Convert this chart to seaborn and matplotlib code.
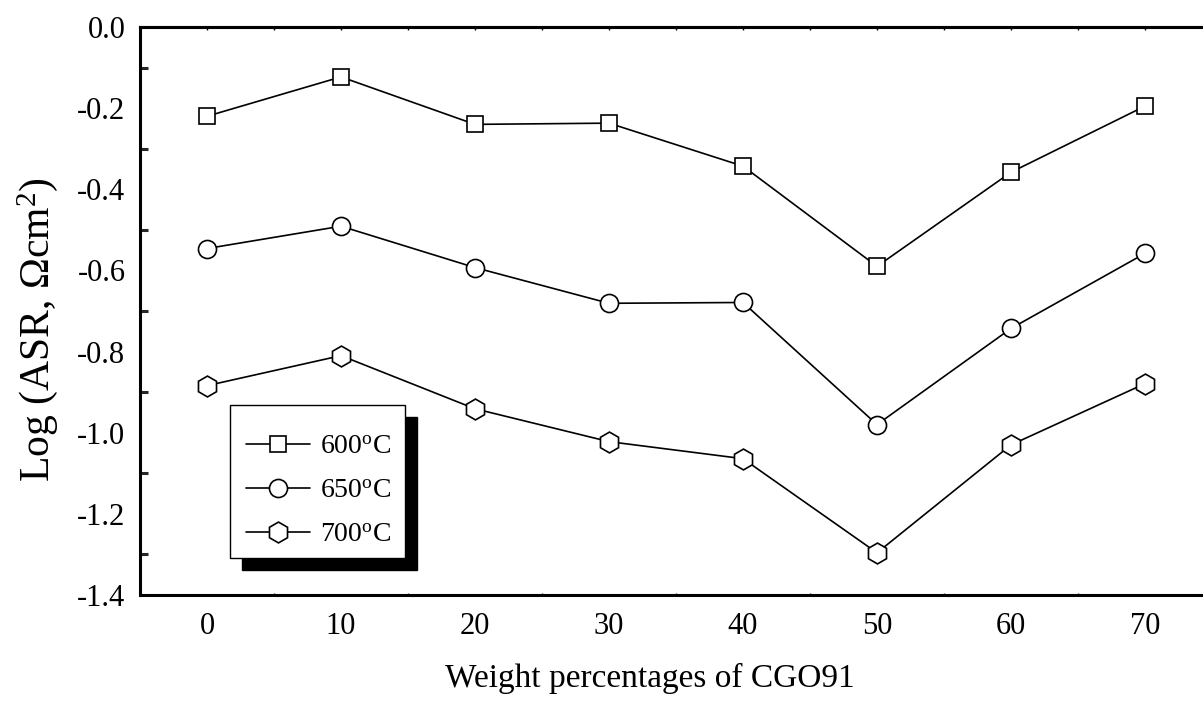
import numpy as np
import pandas as pd
import matplotlib
matplotlib.use("Agg")
import matplotlib.pyplot as plt
from matplotlib.patches import Rectangle
from matplotlib.lines import Line2D
from matplotlib.ticker import MultipleLocator
import seaborn as sns

weights = [0, 10, 20, 30, 40, 50, 60, 70]
asr_600 = [-0.220, -0.123, -0.240, -0.237, -0.343, -0.590, -0.358, -0.195]
asr_650 = [-0.546, -0.491, -0.593, -0.681, -0.679, -0.980, -0.743, -0.558]
asr_700 = [-0.884, -0.810, -0.941, -1.022, -1.064, -1.296, -1.030, -0.879]
labels = ["600$^\\mathrm{o}$C", "650$^\\mathrm{o}$C", "700$^\\mathrm{o}$C"]
ytick_vals = [-1.4, -1.2, -1.0, -0.8, -0.6, -0.4, -0.2, 0.0]
ytick_labels = ["-1.4", "-1.2", "-1.0", "-0.8", "-0.6", "-0.4", "-0.2", "0.0"]
markers = ["s", "o", "h"]
msizes = [12, 13, 15]

sns.set_theme(style="white")
plt.rcParams["font.family"] = ["Liberation Serif", "DejaVu Serif"]
plt.rcParams["mathtext.fontset"] = "custom"
plt.rcParams["mathtext.rm"] = "Liberation Serif"
plt.rcParams["mathtext.it"] = "Liberation Serif:italic"
plt.rcParams["text.color"] = "black"
plt.rcParams["axes.labelcolor"] = "black"

W, H = 1203, 701
fig = plt.figure(figsize=(W/100, H/100), dpi=100)
ax = fig.add_axes([140/W, 1-595/H, (1212-140)/W, (595-27)/H])

handles = []
for ys, lab, m, ms in zip([asr_600, asr_650, asr_700], labels, markers, msizes):
    sns.lineplot(x=weights, y=ys, ax=ax, color="black", lw=1.2, marker=m,
                 markersize=ms, markerfacecolor="white", markeredgecolor="black",
                 markeredgewidth=1.2, legend=False)
    handles.append(Line2D([], [], color="black", lw=1.2, marker=m, markersize=ms,
                          markerfacecolor="white", markeredgecolor="black",
                          markeredgewidth=1.2, label=lab))

ax.set_xlim(-5, 75)
ax.set_ylim(-1.4, 0.0)
ax.set_xticks(weights)
ax.set_yticks(ytick_vals)
ax.set_yticklabels(ytick_labels)
ax.yaxis.set_minor_locator(MultipleLocator(0.1))
ax.xaxis.set_minor_locator(MultipleLocator(5))
for s in ax.spines.values():
    s.set_color("black")
    s.set_linewidth(2.2)
ax.tick_params(axis="both", which="major", direction="in", length=11, width=2.2,
               labelsize=22, colors="black", top=False, right=False)
ax.tick_params(axis="y", which="major", pad=10.5)
ax.tick_params(axis="x", which="major", pad=12)
ax.tick_params(axis="y", which="minor", direction="in", length=5.5, width=2.2, left=True)
ax.tick_params(axis="x", which="minor", direction="in", length=1.5, width=1, bottom=True, top=False)

sec = ax.secondary_xaxis("top")
sec.set_xticks(np.arange(-5, 76, 5))
sec.tick_params(direction="in", length=2, width=1, labeltop=False, colors="black")
sec.spines["top"].set_linewidth(2.2)

ax.set_xlabel("Weight percentages of CGO91", fontsize=24, color="black", va="center")
ax.xaxis.set_label_coords(650/W, 1-678/H, transform=fig.transFigure)
ax.set_ylabel("Log (ASR, $\\Omega$cm$^2$)", fontsize=30, color="black", va="center")
ax.yaxis.set_label_coords(38/W, 1-330/H, transform=fig.transFigure)

leg = ax.legend(handles=handles, loc="upper left",
                bbox_to_anchor=(228/W, 1-416/H), bbox_transform=fig.transFigure,
                fontsize=20, frameon=False, labelcolor="black",
                handlelength=2.3, handletextpad=0.35, borderpad=0.65, labelspacing=0.68,
                borderaxespad=0)
leg.set_zorder(10)

# legend frame and its offset black shadow (figure pixel coordinates)
box_l, box_t, box_r, box_b = 230, 405, 405, 558
shadow_off = 12
inv = ax.transAxes.inverted()
def px_rect(l, t, r, b):
    (x0, y0), (x1, y1) = inv.transform(fig.transFigure.transform([(l/W, 1-b/H), (r/W, 1-t/H)]))
    return (x0, y0), x1 - x0, y1 - y0
xy, w, h = px_rect(box_l + shadow_off, box_t + shadow_off, box_r + shadow_off, box_b + shadow_off)
ax.add_patch(Rectangle(xy, w, h, transform=ax.transAxes, facecolor="black",
                       edgecolor="black", zorder=8, clip_on=False))
xy, w, h = px_rect(box_l, box_t, box_r, box_b)
ax.add_patch(Rectangle(xy, w, h, transform=ax.transAxes, facecolor="white",
                       edgecolor="black", lw=1.0, zorder=9, clip_on=False))

fig.savefig("out.png", dpi=100)
